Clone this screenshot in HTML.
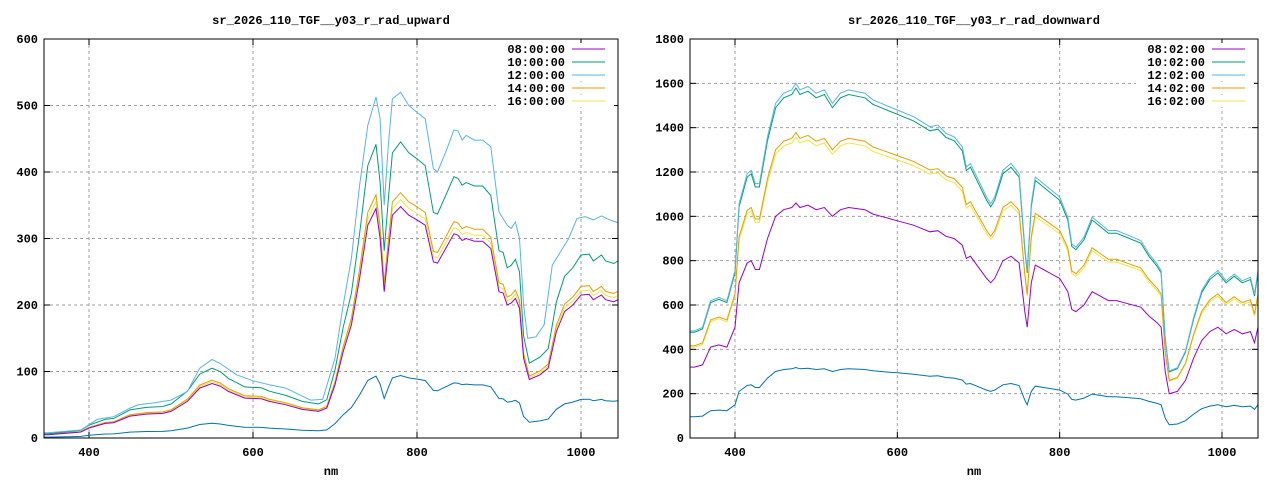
<!DOCTYPE html>
<html><head><meta charset="utf-8"><style>
body{margin:0;background:#fff;}
svg text{font-family:"Liberation Mono",monospace;font-size:12px;fill:#000;font-weight:bold}
</style></head><body>
<svg id="s" width="1280" height="480" xmlns="http://www.w3.org/2000/svg"></svg>
<script>
const S=document.getElementById('s');let h='';
const P1=[[340,5],[350,5],[380,8],[390,9],[400,15],[420,22],[430,23],[450,33],[470,36],[490,37],[500,40],[520,55],[535,75],[550,82],[560,78],[570,70],[590,60],[610,59],[620,55],[640,50],[660,43],[680,40],[690,45],[700,80],[710,130],[720,170],[730,240],[740,320],[750,345],[755,300],[760,220],[765,280],[770,335],[780,348],[790,335],[800,328],[810,320],[820,265],[825,263],[835,285],[845,307],[850,305],[855,297],[860,300],[870,296],[880,296],[890,285],[900,220],[905,218],[910,200],[915,203],[920,210],[925,195],[930,120],[937,88],[950,95],[960,105],[970,160],[980,190],[990,200],[1000,215],[1010,216],[1015,208],[1025,215],[1030,208],[1040,205],[1045,208],[1055,203]];
const C1=[[340,8],[350,8],[370,10],[390,12],[400,20],[410,28],[430,32],[450,45],[460,50],[480,53],[500,57],[520,70],[535,105],[550,118],[560,112],[580,95],[600,86],[620,80],[640,75],[660,63],[670,57],[685,58],[700,120],[710,200],[720,270],[730,380],[740,470],[750,513],[755,480],[760,350],[765,440],[770,510],[780,520],[790,500],[800,490],[810,480],[820,405],[825,400],[835,430],[845,463],[850,462],[855,448],[860,455],[870,448],[880,448],[890,438],[900,340],[910,320],[915,315],[920,325],[925,300],[930,200],[935,150],[945,152],[955,170],[965,260],[975,280],[985,300],[995,330],[1005,333],[1015,328],[1025,334],[1035,328],[1055,320]];
const P2=[[340,320],[350,320],[360,330],[370,410],[380,420],[390,410],[400,500],[405,700],[415,790],[420,800],[425,760],[430,760],[440,900],[450,1000],[460,1030],[470,1040],[475,1060],[480,1040],[490,1050],[500,1030],[510,1040],[520,1000],[530,1030],[540,1040],[560,1030],[570,1010],[580,1000],[590,990],[600,980],[620,960],[640,930],[650,935],[660,910],[670,900],[680,870],[685,810],[690,820],[700,770],[710,720],[715,700],[720,720],[730,800],[740,820],[750,790],[757,570],[760,500],[765,700],[770,780],[780,760],[790,740],[800,720],[810,660],[815,580],[820,570],[830,600],[840,660],[850,640],[860,620],[870,620],[880,610],[900,590],[910,550],[920,520],[925,500],[930,300],[935,200],[945,210],[955,260],[965,360],[975,440],[985,480],[995,500],[1005,470],[1015,490],[1025,470],[1035,480],[1040,430],[1045,510],[1055,460]];
function sc(a,k){return a.map(p=>[p[0],p[1]*k]);}
let cid=0;
function plot(x0,x1,y0,y1,xa,xb,ymax,ystep,title,ser,labs){
 const X=v=>xa+(v-400)*(xb-xa)/600,Y=v=>y1-v/ymax*(y1-y0);cid++;
 h+=`<clipPath id="c${cid}"><rect x="${x0}" y="${y0}" width="${x1-x0}" height="${y1-y0}"/></clipPath>`;
 h+=`<text x="${(x0+x1)/2}" y="24" text-anchor="middle">${title}</text>`;
 for(const t of [400,600,800,1000]){const x=X(t);h+=`<line x1="${x}" y1="${y0}" x2="${x}" y2="${y1}" stroke="#a0a0a0" stroke-dasharray="3,3"/><line x1="${x}" y1="${y1}" x2="${x}" y2="${y1-6}" stroke="#000"/><line x1="${x}" y1="${y0}" x2="${x}" y2="${y0+6}" stroke="#000"/><text x="${x}" y="${y1+18}" text-anchor="middle">${t}</text>`;}
 for(let v=0;v<=ymax;v+=ystep){const y=Y(v);if(v>0&&v<ymax)h+=`<line x1="${x0}" y1="${y}" x2="${x1}" y2="${y}" stroke="#a0a0a0" stroke-dasharray="3,3"/>`;h+=`<line x1="${x0}" y1="${y}" x2="${x0+6}" y2="${y}" stroke="#000"/><line x1="${x1}" y1="${y}" x2="${x1-6}" y2="${y}" stroke="#000"/><text x="${x0-6}" y="${y+4}" text-anchor="end">${v}</text>`;}
 h+=`<text x="${(x0+x1)/2}" y="${y1+37}" text-anchor="middle">nm</text>`;
 h+=`<g clip-path="url(#c${cid})">`;
 for(const [d,c] of ser){h+=`<polyline fill="none" stroke="${c}" stroke-width="1" points="${d.map(p=>X(p[0]).toFixed(1)+','+Y(p[1]).toFixed(1)).join(' ')}"/>`;}
 h+=`</g>`;
 const cols=['#9400d3','#009e73','#56b4e9','#e69f00','#f0e442'];
 labs.forEach((l,i)=>{const y=49+i*13;h+=`<rect x="${x1-122}" y="${y-6}" width="118" height="12" fill="#fff"/><text x="${x1-53}" y="${y+4}" text-anchor="end">${l}</text><line x1="${x1-46}" y1="${y}" x2="${x1-13}" y2="${y}" stroke="${cols[i]}"/>`;});
 h+=`<rect x="${x0}" y="${y0}" width="${x1-x0}" height="${y1-y0}" fill="none" stroke="#000"/>`;
}
plot(44,618,39,438,89,581,600,100,'sr_2026_110_TGF__y03_r_rad_upward',
 [[sc(P1,0.27),'#0072b2'],[sc(P1,1.03),'#f0e442'],[sc(P1,1.06),'#e69f00'],[P1,'#9400d3'],[sc(P1,1.28),'#009e73'],[C1,'#56b4e9']],
 ['08:00:00','10:00:00','12:00:00','14:00:00','16:00:00']);
plot(690,1258,39,438,735,1222,1800,200,'sr_2026_110_TGF__y03_r_rad_downward',
 [[sc(P2,0.3),'#0072b2'],[sc(P2,1.28),'#f0e442'],[sc(P2,1.3),'#e69f00'],[P2,'#9400d3'],[sc(P2,1.49),'#009e73'],[sc(P2,1.51),'#56b4e9']],
 ['08:02:00','10:02:00','12:02:00','14:02:00','16:02:00']);
S.innerHTML=h;
</script>
</body></html>
